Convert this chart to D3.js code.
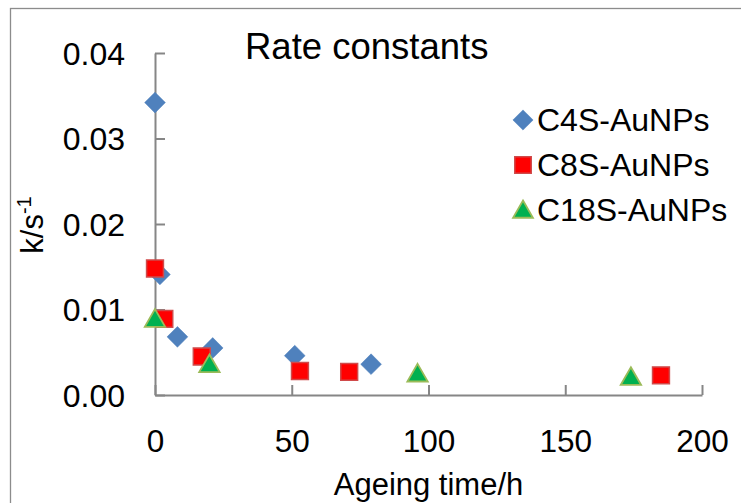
<!DOCTYPE html>
<html>
<head>
<meta charset="utf-8">
<script src="https://cdn.jsdelivr.net/npm/d3@7/dist/d3.min.js"></script>
<style>
  html, body { margin: 0; padding: 0; background: #fff; }
  svg { display: block; font-family: "Liberation Sans", Arial, sans-serif; }
</style>
</head>
<body>
<svg id="chart" width="741" height="503"></svg>
<script>
// Ageing time (h) and first-order rate constants k (s^-1) for each thiol coating
const c4sTime = [0, 1.8, 8.2, 21.1, 51.1, 79];
const c4sRate = [0.0342, 0.0141, 0.0068, 0.0055, 0.0046, 0.0036];
const c8sTime = [0, 3.4, 17.1, 53, 71, 185];
const c8sRate = [0.0148, 0.0089, 0.0045, 0.0028, 0.0027, 0.0023];
const c18sTime = [0, 19.9, 96, 174];
const c18sRate = [0.0089, 0.0036, 0.0025, 0.0021];
const seriesNames = ["C4S-AuNPs", "C8S-AuNPs", "C18S-AuNPs"];
const xTicks = [0, 50, 100, 150, 200];
const yTicks = [0, 0.01, 0.02, 0.03, 0.04];

const svg = d3.select("#chart");
const plot = { left: 155, right: 702, top: 53, bottom: 395 };

const x = d3.scaleLinear().domain([0, 200]).range([plot.left, plot.right]);
const y = d3.scaleLinear().domain([0, 0.04]).range([plot.bottom, plot.top]);

const axisColor = "#868686";
const fontStack = "'Liberation Sans', Arial, sans-serif";

// chart area frame
svg.append("rect")
  .attr("x", 10.5).attr("y", 8.5).attr("width", 900).attr("height", 700)
  .attr("fill", "none").attr("stroke", "#8c8c8c").attr("stroke-width", 1.3);

// axes with inward ticks
const gx = svg.append("g").attr("transform", `translate(0,${plot.bottom})`)
  .call(d3.axisTop(x).tickValues(xTicks).tickSize(10).tickSizeOuter(0).tickFormat(d3.format("d")));
const gy = svg.append("g").attr("transform", `translate(${plot.left},0)`)
  .call(d3.axisRight(y).tickValues(yTicks).tickSize(10).tickSizeOuter(0).tickFormat(d3.format(".2f")));

[gx, gy].forEach(g => {
  g.select(".domain").attr("stroke", axisColor).attr("stroke-width", 2);
  g.selectAll(".tick line").attr("stroke", axisColor).attr("stroke-width", 2);
});

gx.selectAll(".tick text")
  .attr("y", 0).attr("dy", 0)
  .attr("transform", "translate(0,57)")
  .attr("text-anchor", "middle")
  .attr("font-size", 31.5).attr("fill", "#000")
  .style("font-family", fontStack);
gy.selectAll(".tick text")
  .attr("x", -30).attr("dy", "0.35em")
  .attr("text-anchor", "end")
  .attr("font-size", 32).attr("fill", "#000")
  .style("font-family", fontStack);

// axis titles
svg.append("text")
  .attr("x", (plot.left + plot.right) / 2).attr("y", 495)
  .attr("text-anchor", "middle").attr("font-size", 31)
  .text("Ageing time/h");

const yTitle = svg.append("text")
  .attr("transform", `translate(43,${(plot.top + plot.bottom) / 2 + 1}) rotate(-90)`)
  .attr("text-anchor", "middle").attr("font-size", 31);
yTitle.append("tspan").text("k/s");
yTitle.append("tspan").attr("font-size", 20).attr("dy", -12).text("-1");

// chart title
svg.append("text")
  .attr("x", 245).attr("y", 59)
  .attr("font-size", 36.5)
  .text("Rate constants");

// marker styles
const styles = [
  { type: d3.symbolSquare, size: 215, rotate: 45, fill: "#4F81BD", stroke: "#4F81BD", sw: 0.5 },
  { type: d3.symbolSquare, size: 285, rotate: 0, fill: "#FF0000", stroke: "#D04A4A", sw: 1.5 },
  { type: d3.symbolTriangle, size: 180, rotate: 0, fill: "#00B050", stroke: "#9BBB59", sw: 1.8 }
];

const series = [
  c4sTime.map((t, i) => ({ t, k: c4sRate[i] })),
  c8sTime.map((t, i) => ({ t, k: c8sRate[i] })),
  c18sTime.map((t, i) => ({ t, k: c18sRate[i] }))
];

series.forEach((pts, si) => {
  const st = styles[si];
  const sym = d3.symbol().type(st.type).size(st.size);
  svg.append("g").selectAll("path").data(pts).join("path")
    .attr("d", sym)
    .attr("transform", d => `translate(${x(d.t)},${y(d.k) + (si === 2 ? 2 : 0)}) rotate(${st.rotate})`)
    .attr("fill", st.fill).attr("stroke", st.stroke).attr("stroke-width", st.sw);
});

// legend
const legend = svg.append("g").attr("transform", "translate(523,120)");
seriesNames.forEach((name, i) => {
  const st = styles[i];
  const row = legend.append("g").attr("transform", `translate(0,${i * 45})`);
  row.append("path")
    .attr("d", d3.symbol().type(st.type).size(st.size * 0.95))
    .attr("transform", `translate(0,${i === 2 ? 2 : 0}) rotate(${st.rotate})`)
    .attr("fill", st.fill).attr("stroke", st.stroke).attr("stroke-width", st.sw);
  row.append("text")
    .attr("x", 14).attr("dy", "0.35em")
    .attr("font-size", 32)
    .text(name);
});
</script>
</body>
</html>
